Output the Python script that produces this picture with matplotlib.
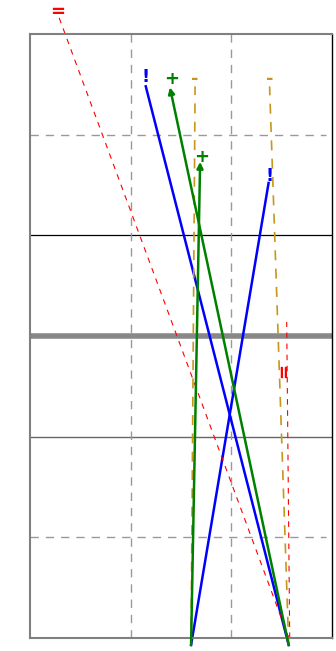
import numpy as np
import matplotlib
matplotlib.use('Agg')
import matplotlib.pyplot as plt

# text labels and where they sit (data units)
labels = ['+', '+', '!', '!', '-', '-', '=', '=']
colors = ['green', 'green', 'blue', 'blue', '#c8961e', '#c8961e', 'red', 'red']
text_x = [1.70, 1.41, 2.38, 1.15, 1.64, 2.38, 0.27, 2.52]
text_y = [4.78, 5.55, 4.59, 5.57, 5.55, 5.55, 6.22, 2.66]
text_rot = [0, 0, 0, 0, 0, 0, 0, 90]

# line ends: start (bottom) -> end (near the label)
start_x = [1.60, 2.57, 1.60, 2.57, 1.60, 2.57, 2.57, 2.58]
start_y = [-0.07, -0.07, -0.07, -0.07, -0.07, -0.07, 0.0, 0.0]
end_x = [1.69, 1.39, 2.37, 1.15, 1.64, 2.38, 0.29, 2.55]
end_y = [4.73, 5.47, 4.52, 5.48, 5.48, 5.48, 6.16, 3.14]

fig = plt.figure(figsize=(3.36, 6.51), dpi=100)
ax = fig.add_axes([30/336, 13/651, 302/336, 604/651])
ax.set_xlim(0, 3)
ax.set_ylim(0, 6)
ax.set_xticks([])
ax.set_yticks([])

for s in ['top', 'left', 'bottom']:
    ax.spines[s].set_color('#808080')
    ax.spines[s].set_linewidth(1.5)
ax.spines['right'].set_color('black')
ax.spines['right'].set_linewidth(1.0)

# reference lines
ax.axhline(4, color='black', lw=0.9)
ax.axhline(3, color='#888888', lw=4)
ax.axhline(2, color='#666666', lw=1.0)
ax.axhline(1, xmax=0.98, color='#999999', lw=1.0, ls=(0, (6, 5)))
ax.axhline(5, xmax=0.98, color='#999999', lw=1.0, ls=(0, (6, 5)))
ax.axvline(1, color='#999999', lw=1.0, ls=(0, (6, 5)))
ax.axvline(2, color='#999999', lw=1.0, ls=(0, (6, 5)))

for i in range(len(labels)):
    c = colors[i]
    if c == 'green':
        ax.annotate('', xy=(end_x[i], end_y[i]), xytext=(start_x[i], start_y[i]),
                    arrowprops=dict(arrowstyle='-|>', color=c, lw=1.8, mutation_scale=9,
                                    shrinkA=0, shrinkB=0), annotation_clip=False)
    elif c == 'blue':
        ax.plot([start_x[i], end_x[i]], [start_y[i], end_y[i]], color=c, lw=1.8, clip_on=False)
    elif c == 'red':
        ax.plot([start_x[i], end_x[i]], [start_y[i], end_y[i]], color=c, lw=0.8,
                ls=(0, (5, 5)), clip_on=False)
    else:
        ax.plot([start_x[i], end_x[i]], [start_y[i], end_y[i]], color=c, lw=1.2,
                ls=(0, (6, 5)), clip_on=False)
    ax.text(text_x[i], text_y[i], labels[i], color=c, fontsize=13, fontweight='bold',
            rotation=text_rot[i], ha='center', va='center', clip_on=False)

fig.savefig('out.png', dpi=100)
